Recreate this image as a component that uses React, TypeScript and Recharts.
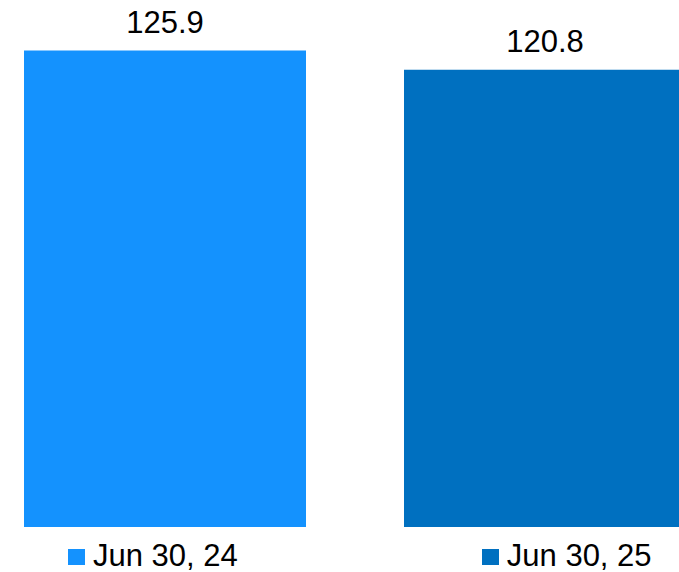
import React from "react";
import { BarChart, Bar, XAxis, YAxis, LabelList } from "recharts";

// Period labels and values (one series per reporting date)
const periods = ["Jun 30, 24", "Jun 30, 25"];
const values = [125.9, 120.8];
const colors = ["#1492FE", "#0070C0"];
const seriesKeys = ["p0", "p1"];

const row: Record<string, number | string> = { name: "" };
seriesKeys.forEach((k, i) => {
  row[k] = values[i];
});
const data = [row];

const FONT = "'Liberation Sans', Arial, sans-serif";

export default function App() {
  return (
    <div
      style={{
        position: "absolute",
        left: 0,
        top: 0,
        width: 679,
        height: 572,
        overflow: "hidden",
        background: "#ffffff",
        fontFamily: FONT,
      }}
    >
      <BarChart
        width={686}
        height={572}
        data={data}
        margin={{ top: 35, right: 0, bottom: 45, left: 23 }}
        barSize={282}
        barGap={98}
        barCategoryGap={0}
      >
        <XAxis dataKey="name" hide />
        <YAxis hide domain={[0, 130]} />
        {seriesKeys.map((k, i) => (
          <Bar key={k} dataKey={k} name={periods[i]} fill={colors[i]} isAnimationActive={false}>
            <LabelList
              dataKey={k}
              position="top"
              offset={18}
              fill="#000000"
              fontSize={31}
              fontFamily={FONT}
              formatter={(v: number) => v.toFixed(1)}
            />
          </Bar>
        ))}
      </BarChart>
      <div
        style={{
          position: "absolute",
          left: 68,
          top: 540,
          display: "flex",
          gap: 244,
        }}
      >
        {periods.map((p, i) => (
          <div key={p} style={{ display: "flex", alignItems: "center" }}>
            <span
              style={{
                display: "inline-block",
                width: 17,
                height: 16,
                background: colors[i],
                marginRight: 8,
                marginTop: 3,
              }}
            />
            <span style={{ fontSize: 31, lineHeight: "31px", color: "#000", whiteSpace: "nowrap" }}>{p}</span>
          </div>
        ))}
      </div>
    </div>
  );
}
